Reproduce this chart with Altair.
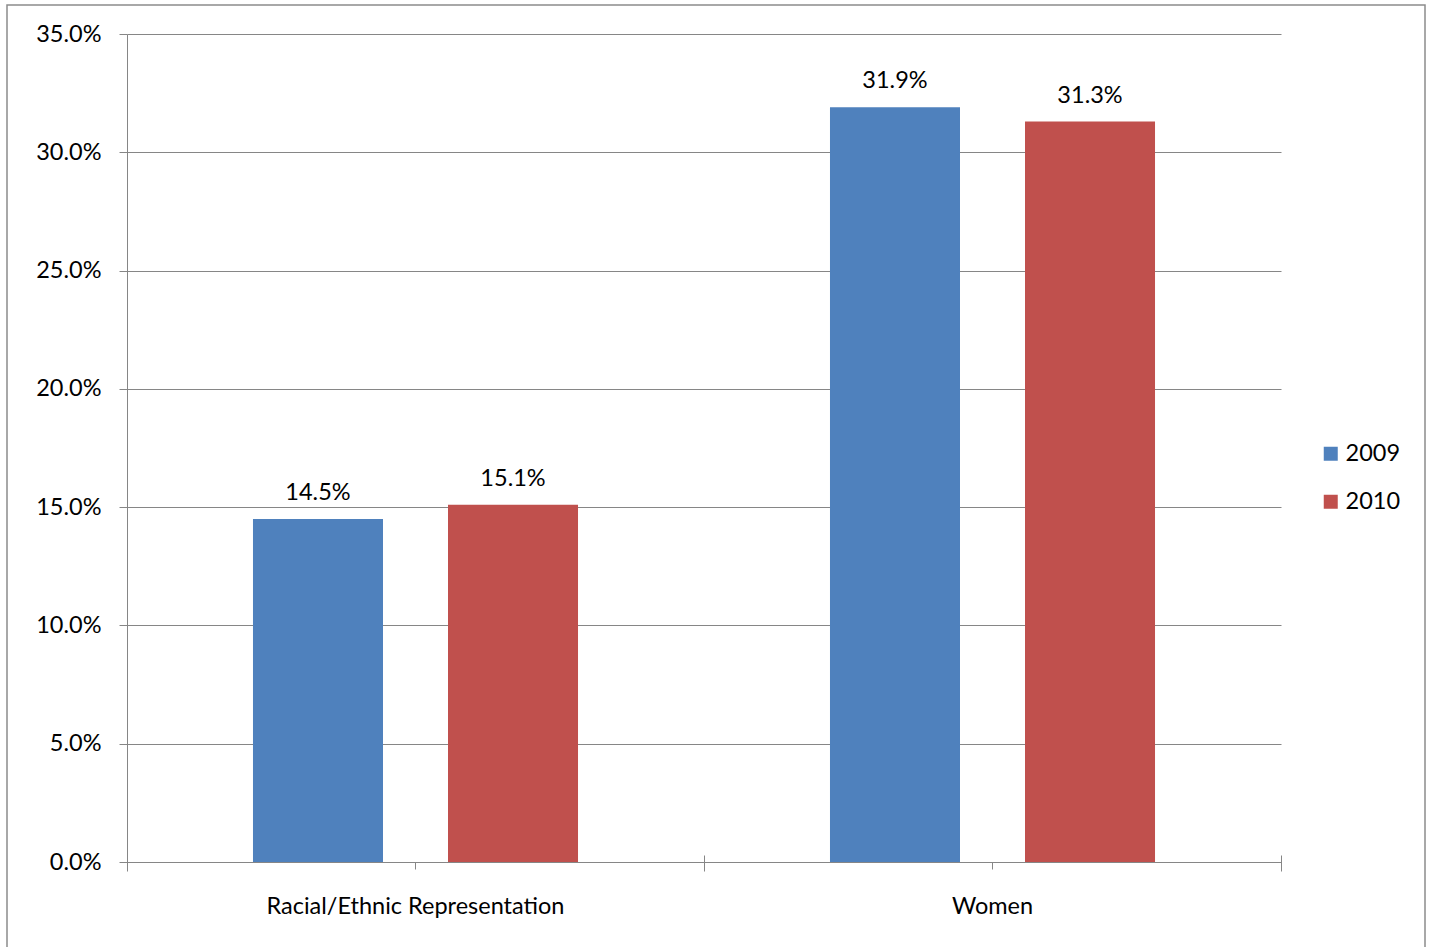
import altair as alt
import pandas as pd

# Share of board seats, by group and year
categories = ["Racial/Ethnic Representation", "Women"]
years = ["2009", "2010"]
values_2009 = [0.145, 0.319]
values_2010 = [0.151, 0.313]
y_ticks = [0.0, 0.05, 0.10, 0.15, 0.20, 0.25, 0.30, 0.35]
bar_colors = ["#4F81BD", "#C0504D"]

rows = []
for i, cat in enumerate(categories):
    rows.append({"category": cat, "year": years[0], "value": values_2009[i]})
    rows.append({"category": cat, "year": years[1], "value": values_2010[i]})
df = pd.DataFrame(rows)

FONT = "Lato"
FS = 23.5
GRID = "#868686"

x_enc = alt.X(
    "category:N",
    sort=categories,
    title=None,
    scale=alt.Scale(paddingInner=0, paddingOuter=0),
    axis=alt.Axis(
        orient="bottom",
        labelAngle=0,
        labelFontSize=FS,
        labelFont=FONT,
        labelColor="black",
        labelLimit=0,
        labelPadding=25,
        domainColor=GRID,
        tickColor=GRID,
        tickBand="center",
        tickSize=7,
        grid=False,
    ),
)
x_off = alt.XOffset(
    "year:N",
    sort=years,
    scale=alt.Scale(paddingInner=1 / 3, paddingOuter=0.646),
)
y_enc = alt.Y(
    "value:Q",
    title=None,
    scale=alt.Scale(domain=[0, 0.35], nice=False),
    axis=alt.Axis(
        values=y_ticks,
        format=".1%",
        labelFontSize=FS,
        labelFont=FONT,
        labelColor="black",
        labelPadding=18,
        tickSize=8,
        tickColor=GRID,
        domainColor=GRID,
        gridColor=GRID,
        gridWidth=1,
        gridOpacity=1,
    ),
)

bars = alt.Chart(df).mark_bar().encode(
    x=x_enc,
    xOffset=x_off,
    y=y_enc,
    color=alt.Color(
        "year:N",
        sort=years,
        scale=alt.Scale(domain=years, range=bar_colors),
        legend=alt.Legend(
            title=None,
            orient="none",
            legendX=1192,
            legendY=408,
            symbolType="square",
            symbolSize=196,
            symbolStrokeWidth=0,
            labelFontSize=FS,
            labelFont=FONT,
            labelColor="black",
            labelOffset=3,
            rowPadding=23,
            padding=0,
        ),
    ),
)

# Value labels above each bar; also carries the boundary ticks of the category axis
labels = alt.Chart(df).mark_text(
    baseline="alphabetic", dy=-19, fontSize=FS, font=FONT, color="black"
).encode(
    x=alt.X(
        "category:N",
        sort=categories,
        title=None,
        axis=alt.Axis(
            orient="bottom",
            labels=False,
            domain=False,
            tickBand="extent",
            tickSize=16,
            tickColor=GRID,
            offset=-7,
            grid=False,
        ),
    ),
    xOffset=x_off,
    y=alt.Y("value:Q"),
    text=alt.Text("value:Q", format=".1%"),
)

# Outer frame of the chart
frame = alt.Chart(pd.DataFrame({"f": [0]})).mark_rect(
    fill=None, stroke="#8c8c8c", strokeWidth=1.5
).encode(
    x=alt.value(-120),
    x2=alt.value(1298),
    y=alt.value(-29),
    y2=alt.value(940),
)

chart = (
    alt.layer(bars, labels, frame)
    .resolve_axis(x="independent")
    .properties(
        width=1154,
        height=828,
        background="white",
        padding={"left": 127, "top": 34, "right": 150, "bottom": 85},
        autosize=alt.AutoSizeParams(type="none"),
    )
    .configure_view(strokeWidth=0, stroke="transparent")
)

chart.save("out.html", embed_options={"renderer": "svg", "actions": False})
